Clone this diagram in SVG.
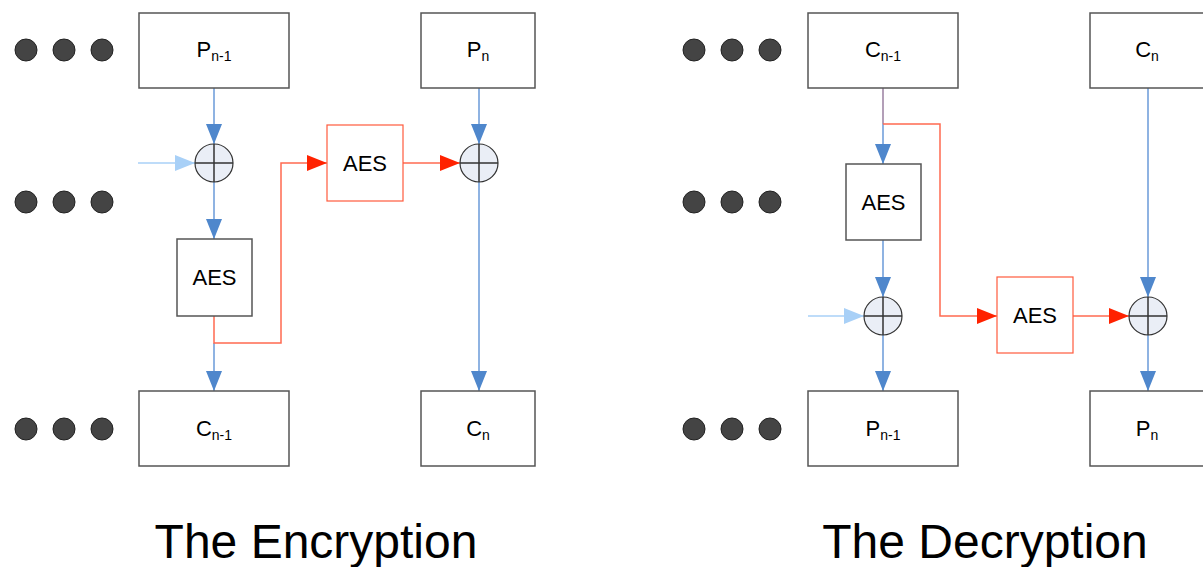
<svg xmlns="http://www.w3.org/2000/svg" width="1203" height="567" viewBox="0 0 1203 567">
<defs>
<marker id="abv" viewBox="0 0 20 16" refX="20" refY="8" markerWidth="22" markerHeight="16" markerUnits="userSpaceOnUse" orient="auto"><path d="M0,0 L20,8 L0,16 Z" fill="#4f87cc"/></marker>
<marker id="arv" viewBox="0 0 20 16" refX="20" refY="8" markerWidth="22" markerHeight="16" markerUnits="userSpaceOnUse" orient="auto"><path d="M0,0 L20,8 L0,16 Z" fill="#ff2200"/></marker>
<marker id="ablv" viewBox="0 0 20 16" refX="20" refY="8" markerWidth="22" markerHeight="16" markerUnits="userSpaceOnUse" orient="auto"><path d="M0,0 L20,8 L0,16 Z" fill="#a8d0f7"/></marker>
<g id="dots3">
<circle cx="0" cy="0" r="11"/><circle cx="38" cy="0" r="11"/><circle cx="76" cy="0" r="11"/>
</g>
</defs>
<style>
.box{fill:#fff;stroke:#555;stroke-width:1.5}
.rbox{fill:#fff;stroke:#ff5a3c;stroke-width:1.2}
.t{font-family:"Liberation Sans",Arial,sans-serif;font-size:22px;fill:#000;text-anchor:middle}
.sub{font-size:14px}
.title{font-family:"Liberation Sans",Arial,sans-serif;font-size:48px;fill:#000;text-anchor:middle}
.b{stroke:#6a9ad8;stroke-width:1.5;fill:none}
.bl{stroke:#a8d0f7;stroke-width:1.5;fill:none}
.r{stroke:#ff6a50;stroke-width:1.5;fill:none}
.xor circle{fill:#eaeef6;stroke:#333;stroke-width:1.2}
.xor path{stroke:#333;stroke-width:1.5}
.dots{fill:#444;stroke:#222;stroke-width:1}
</style>

<g id="dots" class="dots">
<use href="#dots3" x="26" y="50"/><use href="#dots3" x="26" y="202"/><use href="#dots3" x="26" y="429"/>
<use href="#dots3" x="694" y="50"/><use href="#dots3" x="694" y="202"/><use href="#dots3" x="694" y="429"/>
</g>

<g id="connectors">
<line class="b" x1="214" y1="88" x2="214" y2="144" marker-end="url(#abv)"/>
<line class="bl" x1="138" y1="163" x2="195" y2="163" marker-end="url(#ablv)"/>
<line class="b" x1="214" y1="182" x2="214" y2="239" marker-end="url(#abv)"/>
<line class="b" x1="214" y1="343" x2="214" y2="391" marker-end="url(#abv)"/>
<polyline class="r" points="214,316 214,343 281,343 281,163 327,163" marker-end="url(#arv)"/>
<line class="r" x1="403" y1="163" x2="460" y2="163" marker-end="url(#arv)"/>
<line class="b" x1="479" y1="88" x2="479" y2="144" marker-end="url(#abv)"/>
<line class="b" x1="479" y1="182" x2="479" y2="391" marker-end="url(#abv)"/>
<line x1="883" y1="88" x2="883" y2="124" stroke="#9a7fa0" stroke-width="1.5"/>
<line class="b" x1="883" y1="124" x2="883" y2="164" marker-end="url(#abv)"/>
<polyline class="r" points="883,124 940,124 940,316 997,316" marker-end="url(#arv)"/>
<line class="b" x1="883" y1="240" x2="883" y2="297" marker-end="url(#abv)"/>
<line class="bl" x1="808" y1="316" x2="864" y2="316" marker-end="url(#ablv)"/>
<line class="b" x1="883" y1="335" x2="883" y2="391" marker-end="url(#abv)"/>
<line class="r" x1="1073" y1="316" x2="1129" y2="316" marker-end="url(#arv)"/>
<line class="b" x1="1148" y1="88" x2="1148" y2="297" marker-end="url(#abv)"/>
<line class="b" x1="1148" y1="335" x2="1148" y2="391" marker-end="url(#abv)"/>
</g>

<g id="enc-pn1"><rect class="box" x="139" y="13" width="150" height="75"/><text class="t" x="214" y="57">P<tspan class="sub" dy="4">n-1</tspan></text></g>
<g id="enc-pn"><rect class="box" x="421" y="13" width="114" height="75"/><text class="t" x="478" y="57">P<tspan class="sub" dy="4">n</tspan></text></g>
<g id="enc-xor1" class="xor"><circle cx="214" cy="163" r="19"/><path d="M195,163 H233 M214,144 V182"/></g>
<g id="enc-aes1"><rect class="box" x="177" y="239" width="75" height="77"/><text class="t" x="214.5" y="285">AES</text></g>
<g id="enc-aes2"><rect class="rbox" x="327" y="125" width="76" height="76"/><text class="t" x="365" y="171">AES</text></g>
<g id="enc-xor2" class="xor"><circle cx="479" cy="163" r="19"/><path d="M460,163 H498 M479,144 V182"/></g>
<g id="enc-cn1"><rect class="box" x="139" y="391" width="150" height="75"/><text class="t" x="214" y="436">C<tspan class="sub" dy="4">n-1</tspan></text></g>
<g id="enc-cn"><rect class="box" x="421" y="391" width="114" height="75"/><text class="t" x="478" y="436">C<tspan class="sub" dy="4">n</tspan></text></g>

<g id="dec-cn1"><rect class="box" x="808" y="13" width="150" height="75"/><text class="t" x="883" y="57">C<tspan class="sub" dy="4">n-1</tspan></text></g>
<g id="dec-cn"><rect class="box" x="1090" y="13" width="114" height="75"/><text class="t" x="1147" y="57">C<tspan class="sub" dy="4">n</tspan></text></g>
<g id="dec-aes1"><rect class="box" x="846" y="164" width="75" height="76"/><text class="t" x="883.5" y="210">AES</text></g>
<g id="dec-xor1" class="xor"><circle cx="883" cy="316" r="19"/><path d="M864,316 H902 M883,297 V335"/></g>
<g id="dec-aes2"><rect class="rbox" x="997" y="277" width="76" height="76"/><text class="t" x="1035" y="323">AES</text></g>
<g id="dec-xor2" class="xor"><circle cx="1148" cy="316" r="19"/><path d="M1129,316 H1167 M1148,297 V335"/></g>
<g id="dec-pn1"><rect class="box" x="808" y="391" width="150" height="75"/><text class="t" x="883" y="436">P<tspan class="sub" dy="4">n-1</tspan></text></g>
<g id="dec-pn"><rect class="box" x="1090" y="391" width="114" height="75"/><text class="t" x="1147" y="436">P<tspan class="sub" dy="4">n</tspan></text></g>

<text class="title" x="316" y="558">The Encryption</text>
<text class="title" x="985" y="558">The Decryption</text>
</svg>
